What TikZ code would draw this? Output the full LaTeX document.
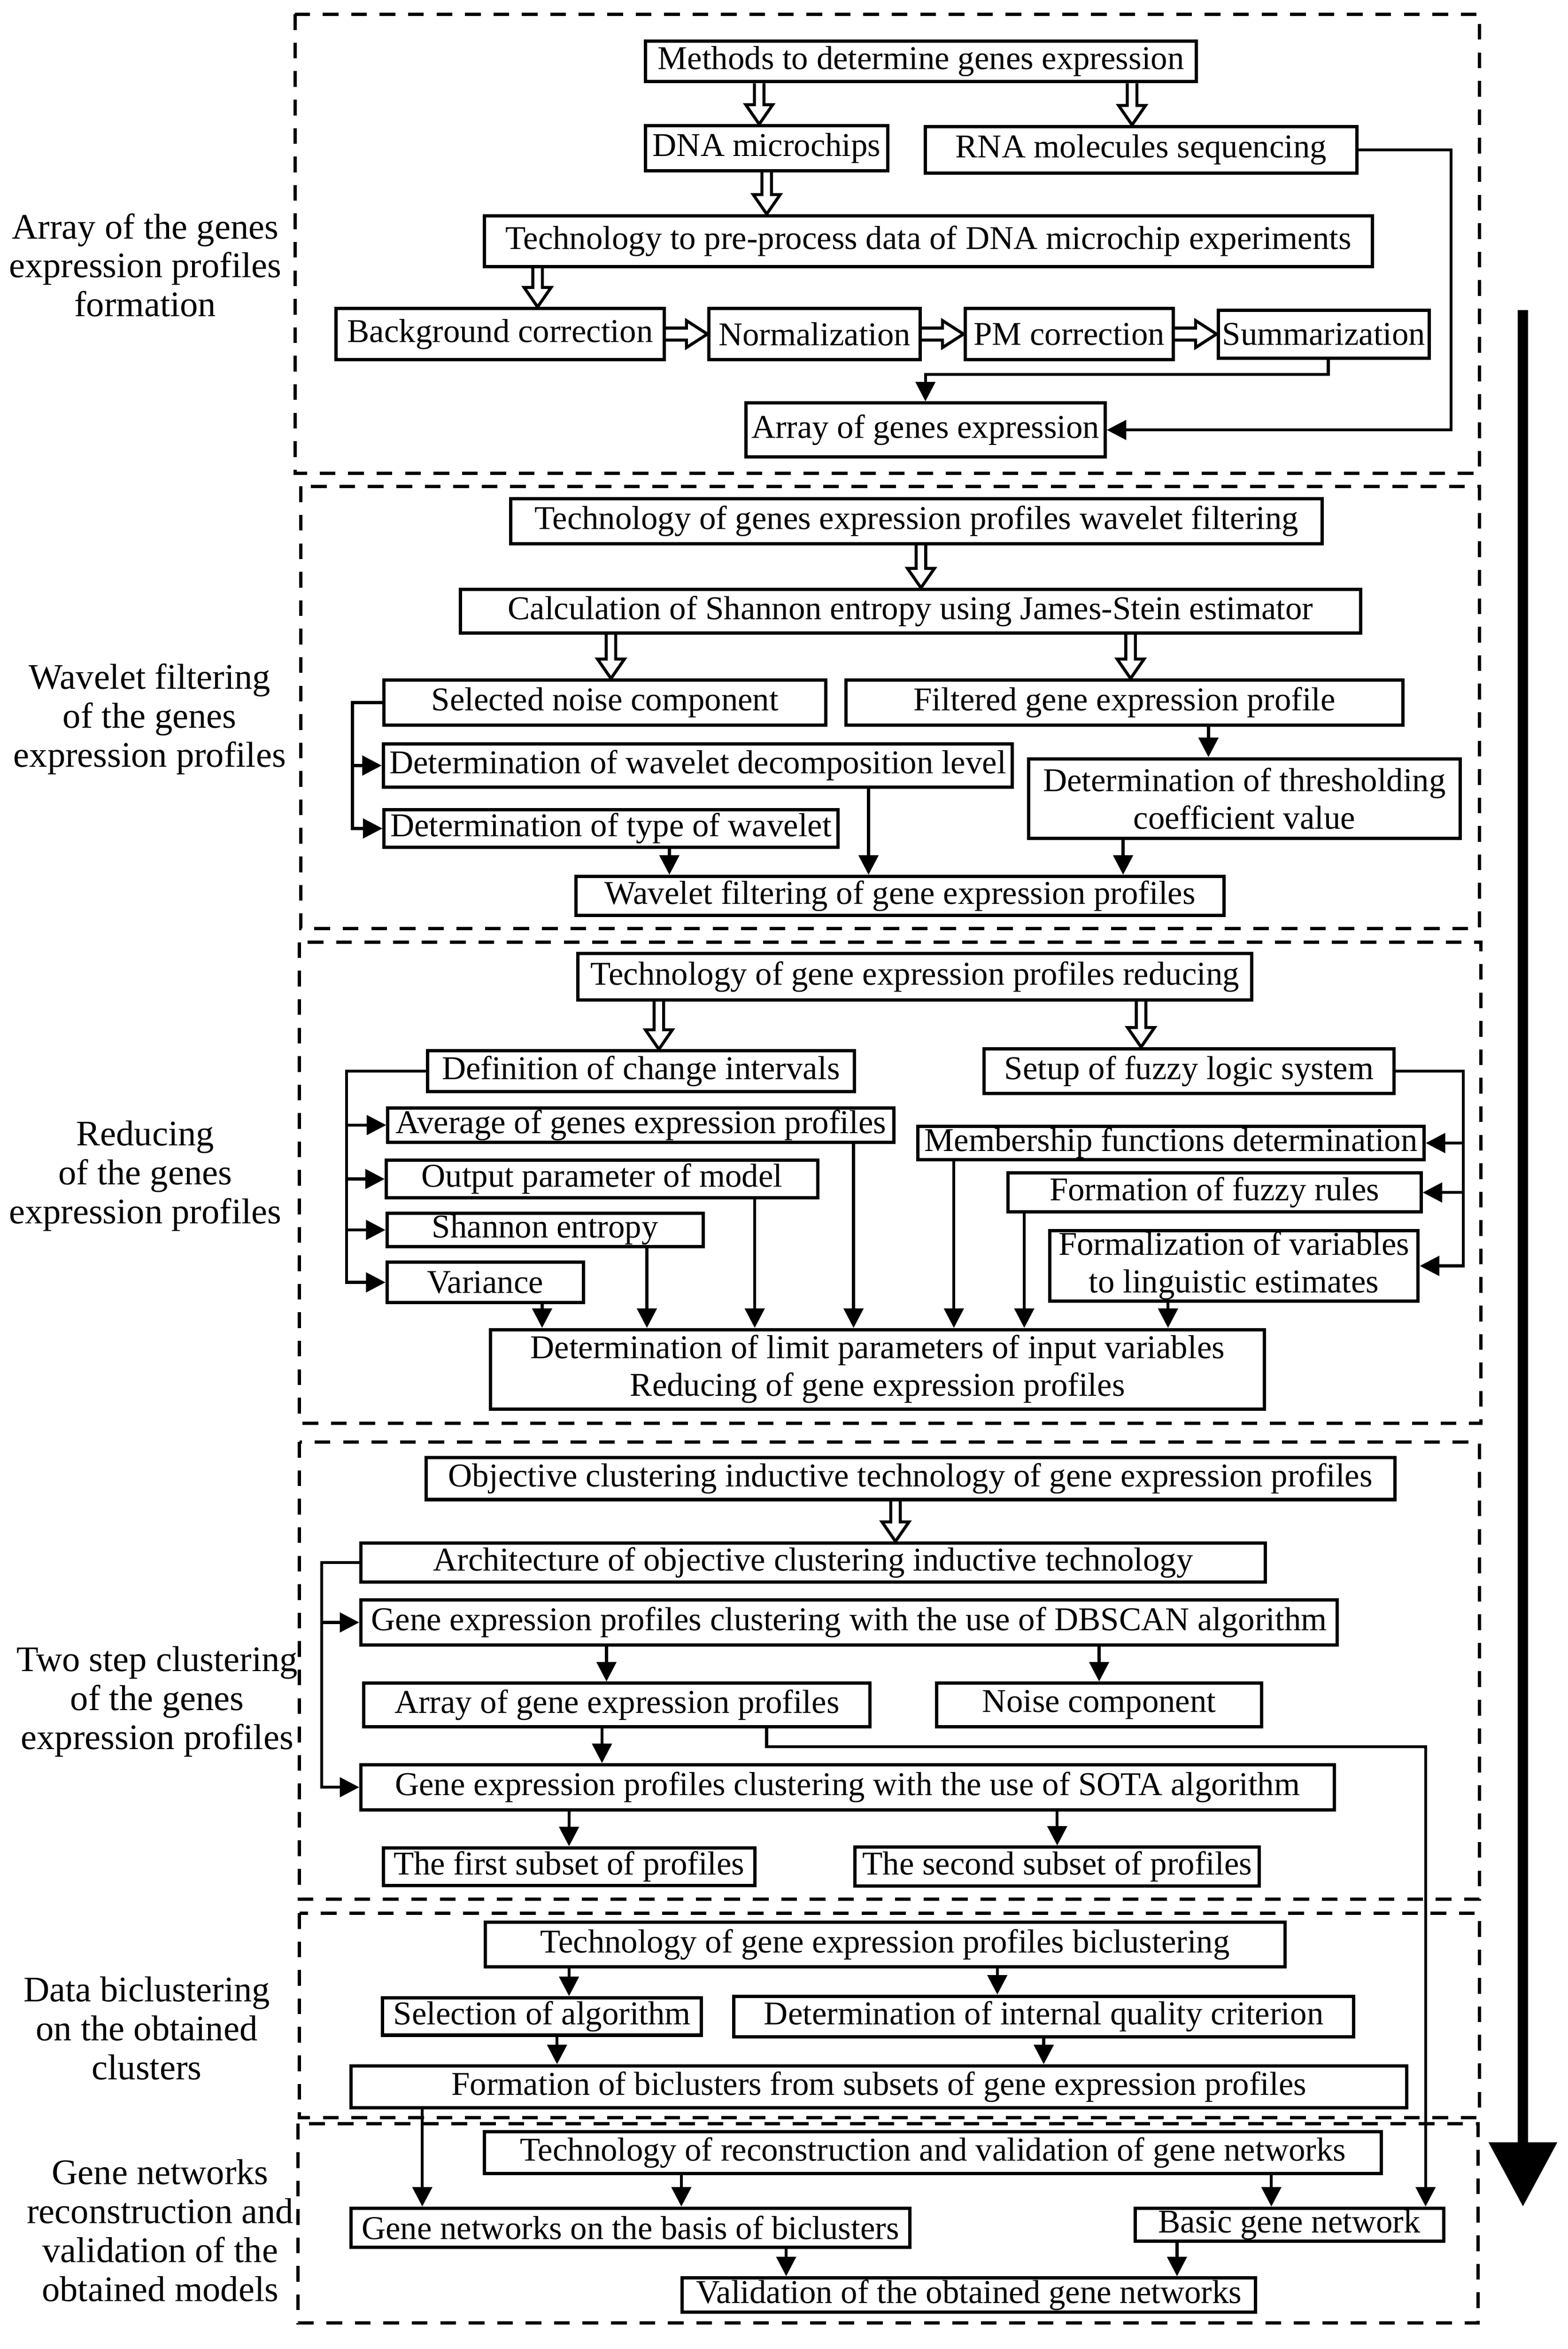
\documentclass[tikz,border=0pt]{standalone}
\usepackage{fontspec}
\setmainfont{Liberation Serif}
\usetikzlibrary{arrows.meta,calc}

\begin{document}
\begin{tikzpicture}[
        x = 1pt, y = -1pt,
        font = \fontsize{22.2}{25}\selectfont,
        box/.style = {draw=black, line width=2.2pt, inner sep=0pt, align=center},
        lab/.style = {align=center, font=\fontsize{24}{26}\selectfont},
        sect/.style = {draw=black, line width=2.2pt, dash pattern=on 10.5pt off 8.5pt},
        arr/.style = {draw=black, line width=2pt, -{Triangle[length=13pt,width=13pt]}},
        hdown/.style = {draw=black, line width=2pt, line join=miter,
            to path={let \p1=(\tikztostart), \p2=(\tikztotarget) in
            (\x2-3.2pt,\y1) -- (\x2-3.2pt,\y2+13pt) -- (\x2-9pt,\y2+13pt) -- (\x2,\y2)
            -- (\x2+9pt,\y2+13pt) -- (\x2+3.2pt,\y2+13pt) -- (\x2+3.2pt,\y1)}},
        hright/.style = {draw=black, line width=2pt, line join=miter,
            to path={let \p1=(\tikztostart), \p2=(\tikztotarget) in
            (\x1,\y1+4pt) -- (\x2-14pt,\y1+4pt) -- (\x2-14pt,\y1+9pt) -- (\x2,\y1)
            -- (\x2-14pt,\y1-9pt) -- (\x2-14pt,\y1-4pt) -- (\x1,\y1-4pt)}},
        flow/.style = {draw=black, line width=7pt, -{Triangle[length=43pt,width=44pt]}}]
        \useasboundingbox (0,0) rectangle (1047,1568);

        % FRAMES
        \draw[sect] (197,9.5) rectangle (988,316);
        \draw[sect] (201,324.7) rectangle (988,619.8);
        \draw[sect] (200,629) rectangle (989,950);
        \draw[sect] (200,962.5) rectangle (988,1267.8);
        \draw[sect] (200,1277) rectangle (988,1413.4);
        \draw[sect] (199,1417.6) rectangle (987,1550.6);

        % STAGE LABELS
        \node[lab] (lab1) at (97,177) {Array of the genes\\expression profiles\\formation};
        \node[lab] (lab2) at (100,480) {Wavelet filtering\\of the genes\\expression profiles};
        \node[lab] (lab3) at (97,785) {Reducing\\of the genes\\expression profiles};
        \node[lab] (lab4) at (105,1136) {Two step clustering\\of the genes\\expression profiles};
        \node[lab] (lab5) at (98,1354) {Data biclustering\\on the obtained\\clusters};
        \node[lab] (lab6) at (107,1489) {Gene networks\\reconstruction and\\validation of the\\obtained models};

        % NODES
        % stage 1: array formation
        \node[box, minimum width=368, minimum height=27] (meth) at (615,41) {Methods to determine genes expression};
        \node[box, minimum width=162, minimum height=30] (dna) at (512,99) {DNA microchips};
        \node[box, minimum width=288, minimum height=31] (rna) at (762,100) {RNA molecules sequencing};
        \node[box, minimum width=593, minimum height=34] (prep) at (620,161) {Technology to pre-process data of DNA microchip experiments};
        \node[box, minimum width=219, minimum height=34] (bgc) at (334,223) {Background correction};
        \node[box, minimum width=141, minimum height=34] (norm) at (544,223) {Normalization};
        \node[box, minimum width=139, minimum height=34] (pmc) at (714,223) {PM correction};
        \node[box, minimum width=141, minimum height=32] (summ) at (884,223) {Summarization};
        \node[box, minimum width=240, minimum height=36] (arrg) at (618,287) {Array of genes expression};
        % stage 2: wavelet filtering
        \node[box, minimum width=542, minimum height=30] (techw) at (612,348) {Technology of genes expression profiles wavelet filtering};
        \node[box, minimum width=601, minimum height=29] (calc) at (608,408) {Calculation of Shannon entropy using James-Stein estimator};
        \node[box, minimum width=295, minimum height=30] (sel) at (404,469) {Selected noise component};
        \node[box, minimum width=372, minimum height=30] (filt) at (751,469) {Filtered gene expression profile};
        \node[box, minimum width=420, minimum height=29] (dec) at (466,511) {Determination of wavelet decomposition level};
        \node[box, minimum width=288, minimum height=53] (thr) at (831,533) {Determination of thresholding\\coefficient value};
        \node[box, minimum width=303, minimum height=25] (typ) at (408,553) {Determination of type of wavelet};
        \node[box, minimum width=433, minimum height=26] (wavf) at (601,598) {Wavelet filtering of gene expression profiles};
        % stage 3: reducing
        \node[box, minimum width=450, minimum height=31] (techr) at (611,652) {Technology of gene expression profiles reducing};
        \node[box, minimum width=285, minimum height=27] (def) at (428,715) {Definition of change intervals};
        \node[box, minimum width=274, minimum height=30] (setup) at (794,715) {Setup of fuzzy logic system};
        \node[box, minimum width=338, minimum height=23] (avg) at (428,751) {Average of genes expression profiles};
        \node[box, minimum width=338, minimum height=22] (memb) at (782,763) {Membership functions determination};
        \node[box, minimum width=288, minimum height=25] (out) at (402,787) {Output parameter of model};
        \node[box, minimum width=276, minimum height=26] (fuz) at (811,796) {Formation of fuzzy rules};
        \node[box, minimum width=211, minimum height=22] (shan) at (364,821) {Shannon entropy};
        \node[box, minimum width=246, minimum height=47] (form) at (824,845) {Formalization of variables\\to linguistic estimates};
        \node[box, minimum width=131, minimum height=27] (var) at (324,856) {Variance};
        \node[box, minimum width=517, minimum height=53] (det) at (586,914) {Determination of limit parameters of input variables\\Reducing of gene expression profiles};
        % stage 4: two step clustering
        \node[box, minimum width=647, minimum height=28] (obj) at (608,987) {Objective clustering inductive technology of gene expression profiles};
        \node[box, minimum width=604, minimum height=26] (arch) at (543,1043) {Architecture of objective clustering inductive technology};
        \node[box, minimum width=652, minimum height=30] (db) at (567,1083) {Gene expression profiles clustering with the use of DBSCAN algorithm};
        \node[box, minimum width=338, minimum height=29] (arrp) at (412,1138) {Array of gene expression profiles};
        \node[box, minimum width=217, minimum height=29] (noise) at (734,1138) {Noise component};
        \node[box, minimum width=650, minimum height=30] (sota) at (566,1193) {Gene expression profiles clustering with the use of SOTA algorithm};
        \node[box, minimum width=248, minimum height=25] (first) at (380,1246) {The first subset of profiles};
        \node[box, minimum width=270, minimum height=26] (second) at (706,1246) {The second subset of profiles};
        % stage 5: biclustering
        \node[box, minimum width=534, minimum height=30] (techb) at (591,1298) {Technology of gene expression profiles biclustering};
        \node[box, minimum width=213, minimum height=25] (alg) at (362,1346) {Selection of algorithm};
        \node[box, minimum width=414, minimum height=27] (crit) at (697,1346) {Determination of internal quality criterion};
        \node[box, minimum width=705, minimum height=28] (bic) at (587,1393) {Formation of biclusters from subsets of gene expression profiles};
        % stage 6: gene networks
        \node[box, minimum width=599, minimum height=28] (techv) at (623,1437) {Technology of reconstruction and validation of gene networks};
        \node[box, minimum width=373, minimum height=26] (gn) at (421,1487) {Gene networks on the basis of biclusters};
        \node[box, minimum width=206, minimum height=22] (basic) at (861,1485) {Basic gene network};
        \node[box, minimum width=383, minimum height=23] (valid) at (647,1532) {Validation of the obtained gene networks};

        % BUS POINTS
        \coordinate (jn1) at (618,250);
        \coordinate (rnabus) at (969,287);
        \coordinate (wbus) at ([xshift=-20]sel.west);
        \coordinate (rbusl) at ([xshift=-53]def.west);
        \coordinate (rbusr) at ([xshift=45]setup.east);
        \coordinate (cbus) at ([xshift=-25]arch.west);
        \coordinate (lbus) at (952,1166);
        \coordinate (flowtop) at (1017,207);
        \coordinate (flowend) at (1017,1473);

        % ARROWS
        % stage 1
        \draw[hdown] (meth.south) to ([xshift=-5]dna.north);
        \draw[hdown] (meth.south) to ([xshift=-6]rna.north);
        \draw[hdown] (dna.south) to (dna.south |- prep.north);
        \draw[hdown] (prep.south) to ([xshift=25]bgc.north);
        \draw[hright] (bgc.east) to (norm.west);
        \draw[hright] (norm.east) to (pmc.west);
        \draw[hright] (pmc.east) to (summ.west);
        \draw[arr] ([xshift=3]summ.south) |- (jn1) -- (arrg.north);
        \draw[arr] (rna.east) -| (rnabus) -- (arrg.east);
        % stage 2
        \draw[hdown] (techw.south) to ([xshift=7]calc.north);
        \draw[hdown] (calc.south) to ([xshift=4]sel.north);
        \draw[hdown] (calc.south) to ([xshift=4]filt.north);
        \draw[arr] (sel.west) -- (wbus) |- (typ.west);
        \draw[arr] (wbus |- dec.west) -- (dec.west);
        \draw[arr] ([xshift=56]filt.south) -- ([xshift=56]filt.south |- thr.north);
        \draw[arr] ([xshift=39]typ.south) -- ([xshift=39]typ.south |- wavf.north);
        \draw[arr] ([xshift=114]dec.south) -- ([xshift=114]dec.south |- wavf.north);
        \draw[arr] ([xshift=-81]thr.south) -- ([xshift=-81]thr.south |- wavf.north);
        % stage 3
        \draw[hdown] (techr.south) to ([xshift=12]def.north);
        \draw[hdown] (techr.south) to ([xshift=-32]setup.north);
        \draw[arr] (def.west) -- (rbusl) |- (var.west);
        \draw[arr] (rbusl |- avg.west) -- (avg.west);
        \draw[arr] (rbusl |- out.west) -- (out.west);
        \draw[arr] (rbusl |- shan.west) -- (shan.west);
        \draw[arr] (setup.east) -- (rbusr) |- (form.east);
        \draw[arr] (rbusr |- memb.east) -- (memb.east);
        \draw[arr] (rbusr |- fuz.east) -- (fuz.east);
        \draw[arr] ([xshift=38]var.south) -- ([xshift=38]var.south |- det.north);
        \draw[arr] ([xshift=68]shan.south) -- ([xshift=68]shan.south |- det.north);
        \draw[arr] ([xshift=102]out.south) -- ([xshift=102]out.south |- det.north);
        \draw[arr] ([xshift=142]avg.south) -- ([xshift=142]avg.south |- det.north);
        \draw[arr] ([xshift=-145]memb.south) -- ([xshift=-145]memb.south |- det.north);
        \draw[arr] ([xshift=-127]fuz.south) -- ([xshift=-127]fuz.south |- det.north);
        \draw[arr] ([xshift=-44]form.south) -- ([xshift=-44]form.south |- det.north);
        % stage 4
        \draw[hdown] (obj.south) to ([xshift=55]arch.north);
        \draw[arr] (arch.west) -- (cbus) |- (sota.west);
        \draw[arr] (cbus |- db.west) -- (db.west);
        \draw[arr] ([xshift=-162]db.south) -- ([xshift=-162]db.south |- arrp.north);
        \draw[arr] (noise.north |- db.south) -- (noise.north);
        \draw[arr] ([xshift=-10]arrp.south) -- ([xshift=-10]arrp.south |- sota.north);
        \draw[arr] ([xshift=100]arrp.south) |- (lbus) -- (lbus |- basic.north);
        \draw[arr] (first.north |- sota.south) -- (first.north);
        \draw[arr] (second.north |- sota.south) -- (second.north);
        % stage 5
        \draw[arr] ([xshift=18]alg.north |- techb.south) -- ([xshift=18]alg.north);
        \draw[arr] ([xshift=-31]crit.north |- techb.south) -- ([xshift=-31]crit.north);
        \draw[arr] ([xshift=10]alg.south) -- ([xshift=10]alg.south |- bic.north);
        \draw[arr] (crit.south) -- (crit.south |- bic.north);
        % stage 6
        \draw[arr] ([xshift=-305]bic.south) -- ([xshift=-305]bic.south |- gn.north);
        \draw[arr] ([xshift=34]gn.north |- techv.south) -- ([xshift=34]gn.north);
        \draw[arr] ([xshift=-12]basic.north |- techv.south) -- ([xshift=-12]basic.north);
        \draw[arr] ([xshift=104]gn.south) -- ([xshift=104]gn.south |- valid.north);
        \draw[arr] ([xshift=-75]basic.south) -- ([xshift=-75]basic.south |- valid.north);

        % FLOW ARROW
        \draw[flow] (flowtop) -- (flowend);
    \end{tikzpicture}
\end{document}
